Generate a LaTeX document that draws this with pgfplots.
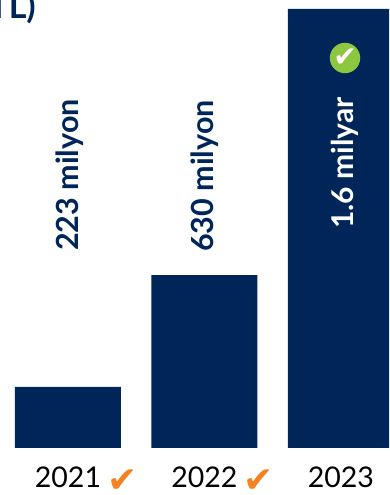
\documentclass[border=0pt]{standalone}
\usepackage{pgfplots}
\pgfplotsset{compat=1.18}
\usepackage{fontspec}
\setmainfont{Lato}
\newfontfamily\sym{DejaVu Sans}
\definecolor{navy}{HTML}{002659}
\definecolor{chk}{HTML}{F58220}
\definecolor{grn}{HTML}{8DC63F}
\begin{document}
\begin{tikzpicture}[x=1pt,y=1pt]
\clip (0,0) rectangle (389,495);
\path[use as bounding box] (0,0) rectangle (389,495);
\begin{axis}[
  at={(0,0)},anchor=south west,
  scale only axis,width=389pt,height=495pt,
  xmin=-0.498,xmax=2.352,ymin=-171.3,ymax=1632.7,
  axis line style={draw=none},
  ytick=\empty,
  xtick={0,1,2},xticklabels={2021,2022,2023},
  major tick length=0pt,
  xticklabel style={font=\fontsize{28.5}{28.5}\selectfont,text=black,anchor=base,yshift=7pt},
  xticklabel shift=0pt,
  clip=false,
  /pgf/number format/assume math mode=true,
]
\addplot[ybar,bar width=106pt,fill=navy,draw=none] coordinates {(0,223)(1,630)(2,1600)};
\end{axis}
\node[anchor=base east,inner sep=0pt,font=\bfseries\fontsize{34}{34}\selectfont,text=navy] at (36,476) {TL)};
\node[rotate=90,font=\bfseries\fontsize{30.5}{30.5}\selectfont,text=navy] at (69.5,320) {223 milyon};
\node[rotate=90,font=\bfseries\fontsize{30.5}{30.5}\selectfont,text=navy] at (205,319) {630 milyon};
\node[rotate=90,font=\bfseries\fontsize{30}{30}\selectfont,text=white] at (345,332) {1.6 milyar};
\fill[grn] (345,437) circle (15.2);
\node[text=white,font=\sym\fontsize{28}{28}\selectfont] at (345,437) {✔};
\node[text=chk,font=\sym\fontsize{36}{36}\selectfont] at (123,13.5) {✔};
\node[text=chk,font=\sym\fontsize{36}{36}\selectfont] at (259,13.5) {✔};
\end{tikzpicture}
\end{document}
